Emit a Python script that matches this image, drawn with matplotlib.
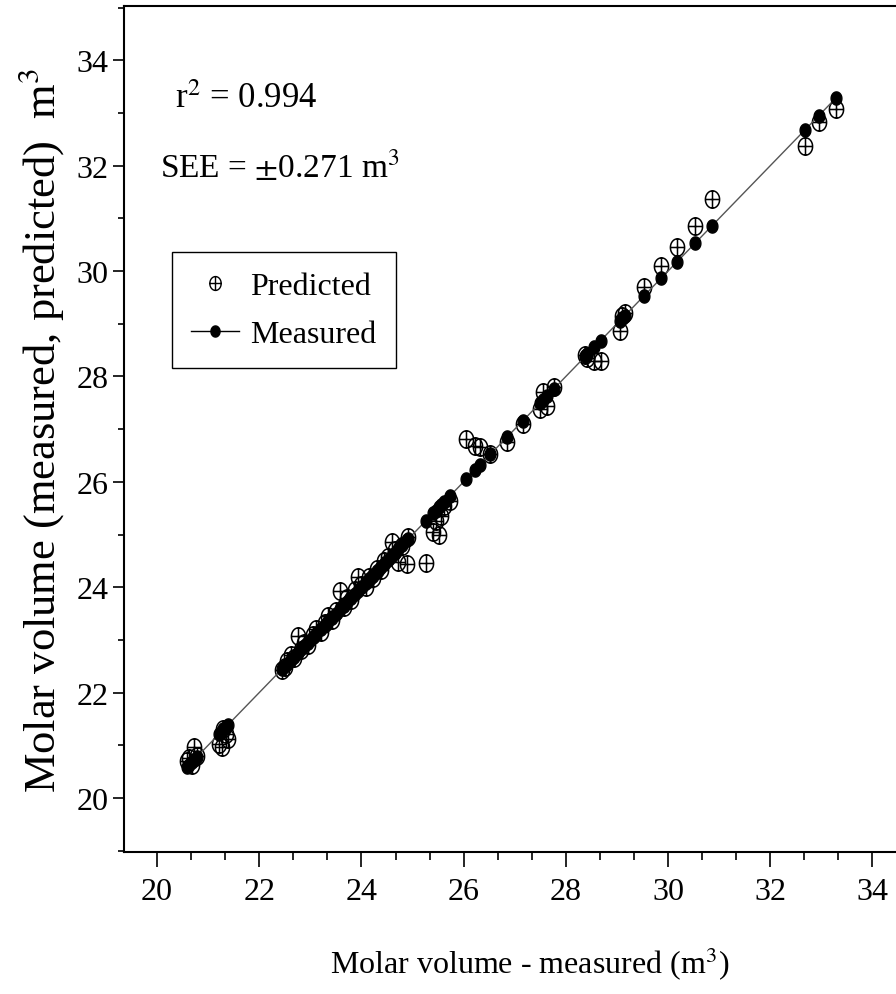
import numpy as np
import matplotlib
matplotlib.use("Agg")
from matplotlib import pyplot as plt
from matplotlib.path import Path
from matplotlib.ticker import MultipleLocator
from matplotlib.lines import Line2D

plt.rcParams['font.family'] = ['Liberation Serif', 'DejaVu Serif']
plt.rcParams['mathtext.fontset'] = 'stix'

# measured molar volume (m3) and the matching predicted value
measured = [20.58, 20.62, 20.68, 20.72, 20.78, 21.22, 21.27, 21.30, 21.35, 21.39,
            22.45, 22.50, 22.55, 22.62, 22.68, 22.76, 22.82, 22.88, 22.95, 23.05,
            23.12, 23.20, 23.28, 23.35, 23.42, 23.50, 23.58, 23.65, 23.72, 23.80,
            23.88, 23.93, 24.00, 24.08, 24.15, 24.22, 24.30, 24.38, 24.45, 24.52,
            24.60, 24.65, 24.72, 24.80, 24.89, 24.92, 25.26, 25.40, 25.45, 25.52,
            25.56, 25.62, 25.73, 26.05, 26.22, 26.32, 26.52, 26.85, 27.16, 27.50,
            27.55, 27.63, 27.77, 28.38, 28.42, 28.55, 28.68, 29.05, 29.10, 29.15,
            29.53, 29.87, 30.18, 30.53, 30.86, 32.67, 32.95, 33.28]
predicted = [20.70, 20.75, 20.62, 20.97, 20.80, 21.02, 20.97, 21.30, 21.22, 21.12,
             22.42, 22.48, 22.60, 22.72, 22.65, 23.07, 22.80, 22.95, 22.90, 23.10,
             23.20, 23.15, 23.32, 23.45, 23.38, 23.55, 23.93, 23.62, 23.80, 23.75,
             23.95, 24.19, 24.05, 24.00, 24.20, 24.18, 24.35, 24.33, 24.50, 24.58,
             24.86, 24.70, 24.48, 24.78, 24.44, 24.95, 24.46, 25.05, 25.26, 25.00,
             25.35, 25.55, 25.64, 26.81, 26.68, 26.66, 26.53, 26.75, 27.10, 27.38,
             27.70, 27.44, 27.80, 28.40, 28.35, 28.29, 28.29, 28.86, 29.15, 29.20,
             29.70, 30.09, 30.46, 30.86, 31.37, 32.37, 32.83, 33.07]

# elliptical markers (the source picture is stretched vertically)
t = np.linspace(0, 2 * np.pi, 41)
ell = np.column_stack([np.cos(t), 1.22 * np.sin(t)])
verts = list(ell) + [(-1, 0), (1, 0), (0, -1.22), (0, 1.22)]
codes = [Path.MOVETO] + [Path.LINETO] * 40 + [Path.MOVETO, Path.LINETO, Path.MOVETO, Path.LINETO]
oplus = Path(verts, codes)
dot = Path(list(ell), [Path.MOVETO] + [Path.LINETO] * 39 + [Path.CLOSEPOLY])

fig = plt.figure(figsize=(8.96, 9.95), dpi=100)
ax = fig.add_axes([124 / 896, 1 - 853 / 995, 1 - 124 / 896, (853 - 7) / 995])

ax.plot(measured, predicted, linestyle='none', marker=oplus, markersize=12.5,
        markerfacecolor='none', markeredgecolor='black', markeredgewidth=1.1)
ax.plot(measured, measured, color='#555555', linewidth=1.0, marker=dot,
        markersize=9.5, markerfacecolor='black', markeredgecolor='black')

ax.set_xlim(19.354, 34.46)
ax.set_ylim(18.975, 35.03)
ax.spines['right'].set_visible(False)
for s in ['left', 'top', 'bottom']:
    ax.spines[s].set_linewidth(1.5)

ax.xaxis.set_major_locator(MultipleLocator(2))
ax.xaxis.set_minor_locator(MultipleLocator(2 / 3))
ax.yaxis.set_major_locator(MultipleLocator(2))
ax.yaxis.set_minor_locator(MultipleLocator(1))
ax.tick_params(axis='x', which='major', direction='out', length=11, width=1.2, pad=7, labelsize=23)
ax.tick_params(axis='x', which='minor', direction='out', length=6, width=1.2)
ax.tick_params(axis='y', which='major', direction='out', length=8, width=1.2, pad=3, labelsize=23)
ax.tick_params(axis='y', which='minor', direction='out', length=4.5, width=1.2)

ax.set_xlabel('Molar volume - measured (m$^3$)', fontsize=23)
ax.xaxis.set_label_coords(0.526, -0.11)
ax.set_ylabel('Molar volume (measured, predicted)  m$^3$', fontsize=32, labelpad=8)

ax.text(20.35, 33.11, 'r$^2$ = 0.994', fontsize=25, va='baseline')
ax.text(20.06, 31.8, 'SEE = $\\pm$0.271 m$^3$', fontsize=24, va='baseline')

handles = [Line2D([], [], linestyle='none', marker=oplus, markersize=10,
                  markerfacecolor='none', markeredgecolor='black'),
           Line2D([], [], color='black', linewidth=1.0, marker=dot, markersize=8,
                  markerfacecolor='black', markeredgecolor='black')]
leg = ax.legend(handles, ['Predicted', 'Measured'], loc='upper left',
                bbox_to_anchor=(0.062, 0.709), borderaxespad=0, fontsize=23,
                fancybox=False, framealpha=1, edgecolor='black', handlelength=1.5,
                handletextpad=0.35, borderpad=0.6, labelspacing=0.6)
leg.get_frame().set_linewidth(1.0)

fig.savefig('out.png', dpi=100)
